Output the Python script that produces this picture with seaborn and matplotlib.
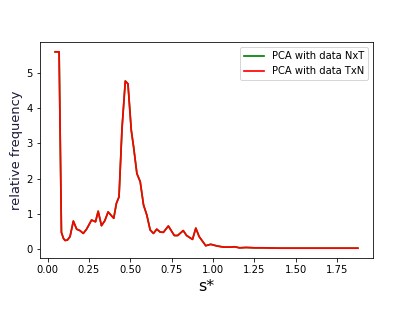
import matplotlib
matplotlib.use("Agg")
import matplotlib.pyplot as plt
import seaborn as sns
import numpy as np

s_star = [0.046, 0.07, 0.084, 0.096, 0.106, 0.12, 0.136, 0.156, 0.176, 0.196, 0.216,
          0.236, 0.266, 0.29, 0.306, 0.326, 0.346, 0.366, 0.40, 0.416, 0.432, 0.45,
          0.47, 0.486, 0.506, 0.52, 0.54, 0.56, 0.58, 0.60, 0.62, 0.64, 0.66, 0.68,
          0.70, 0.73, 0.766, 0.786, 0.82, 0.84, 0.876, 0.896, 0.916, 0.956, 0.986,
          1.026, 1.066, 1.106, 1.13, 1.16, 1.20, 1.25, 1.30, 1.40, 1.50, 1.60, 1.70,
          1.80, 1.875]
freq_nxt = [5.6, 5.6, 0.47, 0.30, 0.24, 0.25, 0.35, 0.79, 0.56, 0.52, 0.44,
            0.56, 0.82, 0.77, 1.07, 0.66, 0.80, 1.05, 0.87, 1.29, 1.48, 3.42,
            4.77, 4.69, 3.37, 2.90, 2.14, 1.91, 1.25, 0.96, 0.54, 0.44, 0.56, 0.48,
            0.47, 0.65, 0.38, 0.38, 0.52, 0.38, 0.27, 0.59, 0.35, 0.09, 0.13,
            0.08, 0.05, 0.05, 0.06, 0.03, 0.04, 0.03, 0.03, 0.02, 0.02, 0.02, 0.02,
            0.02, 0.02]
freq_txn = list(freq_nxt)

labels = ["PCA with data NxT", "PCA with data TxN"]

fig = plt.figure(figsize=(398/72, 318/72), dpi=72)
ax = fig.add_axes([40/398, 60/318, 333/398, 216/318])

sns.lineplot(x=s_star, y=freq_nxt, color="green", label=labels[0], ax=ax, linewidth=1.7)
sns.lineplot(x=s_star, y=freq_txn, color="red", label=labels[1], ax=ax, linewidth=1.7)

ax.set_xticks([0.0, 0.25, 0.5, 0.75, 1.0, 1.25, 1.5, 1.75])
ax.set_xticklabels(["0.00", "0.25", "0.50", "0.75", "1.00", "1.25", "1.50", "1.75"])
ax.set_yticks([0, 1, 2, 3, 4, 5])
ax.tick_params(labelsize=10)
ax.set_xlabel("s*", fontsize=16)
ax.set_ylabel("relative frequency", fontsize=13, color="#1a1a3a")
ax.legend(loc="upper right", fontsize=10)

fig.savefig("out.png", dpi=72)
